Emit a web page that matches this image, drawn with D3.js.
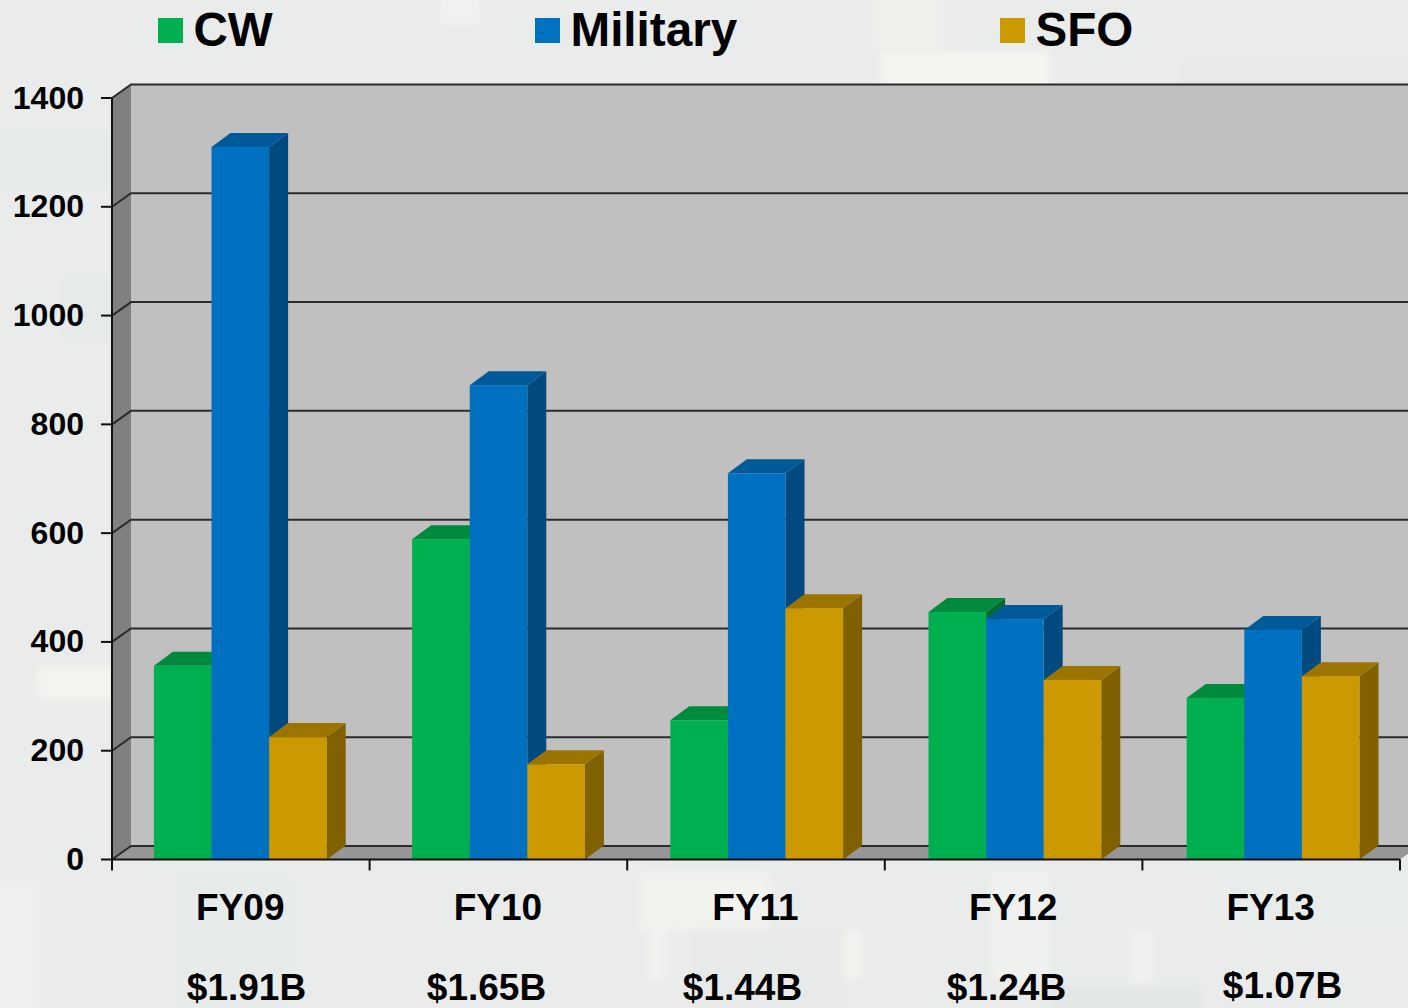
<!DOCTYPE html>
<html>
<head>
<meta charset="utf-8">
<script src="https://cdn.jsdelivr.net/npm/d3@7"></script>
<style>
  html, body { margin: 0; padding: 0; background: #e9ecea; overflow: hidden; }
  svg { display: block; }
  text { font-family: "Liberation Sans", Arial, sans-serif; font-weight: bold; fill: #000; }
</style>
</head>
<body>
<svg id="chart" width="1408" height="1008"></svg>
<script>
// values
const years = ['FY09', 'FY10', 'FY11', 'FY12', 'FY13'];
const totals = ['$1.91B', '$1.65B', '$1.44B', '$1.24B', '$1.07B'];
const seriesNames = ['CW', 'Military', 'SFO'];
const cw = [356, 589, 256, 455, 297];
const military = [1310, 872, 710, 442, 422];
const sfo = [225, 175, 462, 330, 337];
const yTicks = [0, 200, 400, 600, 800, 1000, 1200, 1400];

const seriesValues = [cw, military, sfo];

// front, top, side
const shades = {
  CW: ['#00b050', '#008a3e', '#006a30'],
  Military: ['#0070c0', '#005a9a', '#004a80'],
  SFO: ['#cc9900', '#9c7500', '#806000']
};

const plotLeft = 112, plotRight = 1400, plotTop = 98, plotBottom = 859.5;
const dx = 19, dy = -13.5; // 3d depth of the walls
const barDy = -14;

const svg = d3.select('#chart');

svg.append('defs').append('filter').attr('id', 'soft')
  .attr('x', '-10%').attr('y', '-10%').attr('width', '120%').attr('height', '120%')
  .append('feGaussianBlur').attr('stdDeviation', 3);

// pale blotches of the slide backdrop: x, y, w, h, colour
const backdrop = [
  [440, -5, 40, 30, '#f1f2ef'], [880, 52, 170, 40, '#f4f5f1'], [870, -5, 70, 55, '#eef0ec'],
  [38, 667, 75, 32, '#f3f4ef'], [0, 130, 110, 60, '#e7ebe9'], [60, 280, 50, 60, '#e6eae8'],
  [640, 872, 130, 58, '#f2f3ef'], [650, 930, 16, 50, '#f2f3ef'], [845, 930, 16, 50, '#f2f3ef'],
  [990, 872, 60, 108, '#eff1ee'], [1130, 930, 24, 70, '#eff1ee'], [180, 872, 110, 140, '#e7ebe9'],
  [1050, 985, 150, 30, '#e3e7e5'], [690, 930, 150, 85, '#e7eae8'], [1180, 60, 230, 28, '#e7eae8'],
  [1230, 872, 180, 60, '#e8ecea'], [-5, 880, 45, 135, '#eef0ee']
];
svg.append('g').attr('class', 'backdrop').attr('filter', 'url(#soft)')
  .selectAll('rect').data(backdrop).join('rect')
  .attr('x', d => d[0]).attr('y', d => d[1]).attr('width', d => d[2]).attr('height', d => d[3])
  .attr('fill', d => d[4]);

const x0 = d3.scaleBand().domain(years).range([plotLeft, plotRight]);
// the bar clusters sit on a slightly wider pitch than the axis ticks
const xBars = d3.scaleBand().domain(years).range([plotLeft - 0.5, plotRight + 2.5]);
const x1 = d3.scaleBand().domain(seriesNames).range([0, x0.bandwidth()]).paddingInner(0).paddingOuter(0.736);
const y = d3.scaleLinear().domain([0, 1400]).range([plotBottom, plotTop]);

function pts(list) { return list.map(p => p.join(',')).join(' '); }

// walls
const walls = svg.append('g');
walls.append('polygon')
  .attr('points', pts([[plotLeft + dx, plotTop + dy], [plotRight + dx, plotTop + dy], [plotRight + dx, plotBottom + dy], [plotLeft + dx, plotBottom + dy]]))
  .attr('fill', '#c0c0c0');
walls.append('polygon')
  .attr('points', pts([[plotLeft, plotTop], [plotLeft + dx, plotTop + dy], [plotLeft + dx, plotBottom + dy], [plotLeft, plotBottom]]))
  .attr('fill', '#808080');
walls.append('polygon')
  .attr('points', pts([[plotLeft, plotBottom], [plotLeft + dx, plotBottom + dy], [plotRight + dx, plotBottom + dy], [plotRight, plotBottom]]))
  .attr('fill', '#969696');

// gridlines run along the side wall and the back wall
walls.selectAll('polyline').data(yTicks).join('polyline')
  .attr('points', d => pts([[plotLeft, y(d)], [plotLeft + dx, y(d) + dy], [plotRight + dx, y(d) + dy]]))
  .attr('fill', 'none')
  .attr('stroke', '#2b2b2b')
  .attr('stroke-width', 2);

// bars
const groups = svg.selectAll('g.year').data(years).join('g')
  .attr('class', 'year')
  .attr('transform', d => `translate(${xBars(d)},0)`);

seriesNames.forEach((name, s) => {
  const bw = x1.bandwidth();
  const bar = groups.append('g');
  const xs = x1(name);
  const val = i => seriesValues[s][i];

  bar.append('polygon') // side
    .attr('points', (d, i) => pts([[xs + bw, y(val(i))], [xs + bw + dx, y(val(i)) + barDy], [xs + bw + dx, plotBottom + barDy], [xs + bw, plotBottom]]))
    .attr('fill', shades[name][2]);
  bar.append('polygon') // top
    .attr('points', (d, i) => pts([[xs, y(val(i))], [xs + dx, y(val(i)) + barDy], [xs + bw + dx, y(val(i)) + barDy], [xs + bw, y(val(i))]]))
    .attr('fill', shades[name][1]);
  bar.append('rect') // front
    .attr('x', xs)
    .attr('y', (d, i) => y(val(i)))
    .attr('width', bw)
    .attr('height', (d, i) => plotBottom - y(val(i)))
    .attr('fill', shades[name][0]);
});

// axes
const yAxis = d3.axisLeft(y).tickValues(yTicks).tickFormat(d3.format('d')).tickSize(11).tickSizeOuter(0).tickPadding(17).offset(0);
const gy = svg.append('g').attr('transform', `translate(${plotLeft},0)`).call(yAxis);
gy.selectAll('text').style('font-size', '32px').attr('dy', '0.33em');

const xTickScale = d3.scaleLinear().domain([0, years.length]).range([plotLeft, plotRight]);
const xAxis = d3.axisBottom(xTickScale).ticks(years.length).tickFormat('').tickSize(11).tickSizeOuter(0).offset(0);
svg.append('g').attr('transform', `translate(0,${plotBottom})`).call(xAxis);

svg.selectAll('.domain, .tick line').attr('stroke', '#111').attr('stroke-width', 2);

// category labels and totals
svg.selectAll('text.year').data(years).join('text')
  .attr('class', 'year')
  .attr('x', d => x0(d) + x0.bandwidth() / 2 - 0.5)
  .attr('y', 920)
  .attr('text-anchor', 'middle')
  .style('font-size', '37px')
  .text(d => d);

const totalX = [246.5, 486.5, 742.5, 1006.5, 1282.5];
const totalY = [1000, 1000, 1000, 1000, 998];
svg.selectAll('text.total').data(totals).join('text')
  .attr('class', 'total')
  .attr('x', (d, i) => totalX[i])
  .attr('y', (d, i) => totalY[i])
  .attr('text-anchor', 'middle')
  .style('font-size', '37px')
  .text(d => d);

// legend
const legendX = [158, 535, 1000];
const legend = svg.selectAll('g.legend').data(seriesNames).join('g')
  .attr('class', 'legend')
  .attr('transform', (d, i) => `translate(${legendX[i]},0)`);
legend.append('rect')
  .attr('y', 18).attr('width', 25).attr('height', 25)
  .attr('fill', d => shades[d][0]);
legend.append('text')
  .attr('x', 35.5).attr('y', 46)
  .style('font-size', '47.6px')
  .text(d => d);
</script>
</body>
</html>
